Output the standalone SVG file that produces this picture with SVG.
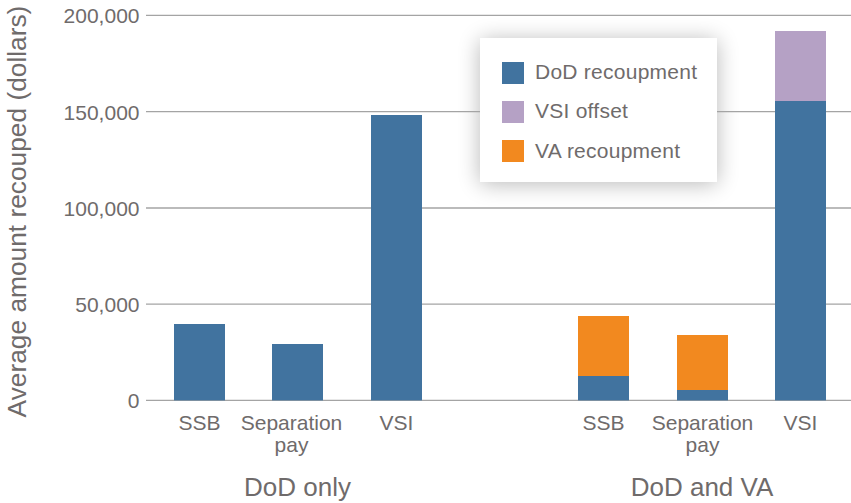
<svg xmlns="http://www.w3.org/2000/svg" width="851" height="503" viewBox="0 0 851 503">
<style>
text{font-family:"Liberation Sans",Arial,sans-serif;fill:#6f6b6b}
.tick{font-size:21px;text-anchor:end}
.cat{font-size:21px;text-anchor:middle}
.grp{font-size:26px;text-anchor:middle}
.leg{font-size:21px;letter-spacing:0.25px}
.grid{stroke:#a4a4a4;stroke-width:1.3;fill:none}
.dod{fill:#41739f}
.va{fill:#f2891f}
.vsi{fill:#b5a1c5}
</style>
<defs>
<filter id="shadow" x="-30%" y="-40%" width="160%" height="180%">
<feGaussianBlur stdDeviation="11"/>
</filter>
</defs>
<rect width="851" height="503" fill="#fff"/>
<g id="legend-shadow">
<rect x="480" y="40" width="237" height="144" fill="#000" opacity="0.28" filter="url(#shadow)"/>
</g>
<g id="gridlines">
<line class="grid" x1="146" y1="15.3" x2="851" y2="15.3"/>
<line class="grid" x1="146" y1="111.6" x2="851" y2="111.6"/>
<line class="grid" x1="146" y1="208" x2="851" y2="208"/>
<line class="grid" x1="146" y1="304.2" x2="851" y2="304.2"/>
<line class="grid" x1="146" y1="400.4" x2="851" y2="400.4"/>
</g>
<g id="y-axis">
<text class="tick" x="139.5" y="23.3">200,000</text>
<text class="tick" x="139.5" y="119.6">150,000</text>
<text class="tick" x="139.5" y="216">100,000</text>
<text class="tick" x="139.5" y="312.2">50,000</text>
<text class="tick" x="139.5" y="408">0</text>
<text font-size="26.3" text-anchor="middle" transform="translate(26,211.5) rotate(-90)">Average amount recouped (dollars)</text>
</g>
<g id="bars-dod-only">
<rect id="bar-ssb-dod" class="dod" x="174" y="324" width="51" height="76.4"/>
<rect id="bar-sep-dod" class="dod" x="272" y="344" width="51" height="56.4"/>
<rect id="bar-vsi-dod" class="dod" x="371" y="115" width="51" height="285.4"/>
</g>
<g id="bars-dod-va">
<g id="bar-ssb-both">
<rect class="va" x="578" y="316" width="51" height="60"/>
<rect class="dod" x="578" y="376" width="51" height="24.4"/>
</g>
<g id="bar-sep-both">
<rect class="va" x="677" y="335" width="51" height="55"/>
<rect class="dod" x="677" y="390" width="51" height="10.4"/>
</g>
<g id="bar-vsi-both">
<rect class="vsi" x="775" y="31" width="51" height="70"/>
<rect class="dod" x="775" y="101" width="51" height="299.4"/>
</g>
</g>
<g id="x-labels">
<text class="cat" x="199.5" y="430">SSB</text>
<text class="cat" x="291.5" y="430">Separation</text>
<text class="cat" x="291.5" y="452">pay</text>
<text class="cat" x="396.5" y="430">VSI</text>
<text class="cat" x="603.5" y="430">SSB</text>
<text class="cat" x="702.5" y="430">Separation</text>
<text class="cat" x="702.5" y="452">pay</text>
<text class="cat" x="800.5" y="430">VSI</text>
<text class="grp" x="297.5" y="495.5">DoD only</text>
<text class="grp" x="702" y="495.5">DoD and VA</text>
</g>
<g id="legend">
<rect x="480" y="38" width="237" height="144" fill="#fff"/>
<rect class="dod" x="502" y="62" width="22" height="22"/>
<text class="leg" x="535" y="79">DoD recoupment</text>
<rect class="vsi" x="502" y="101" width="22" height="22"/>
<text class="leg" x="535" y="118">VSI offset</text>
<rect class="va" x="502" y="140" width="22" height="22"/>
<text class="leg" x="535" y="157.5">VA recoupment</text>
</g>
</svg>
